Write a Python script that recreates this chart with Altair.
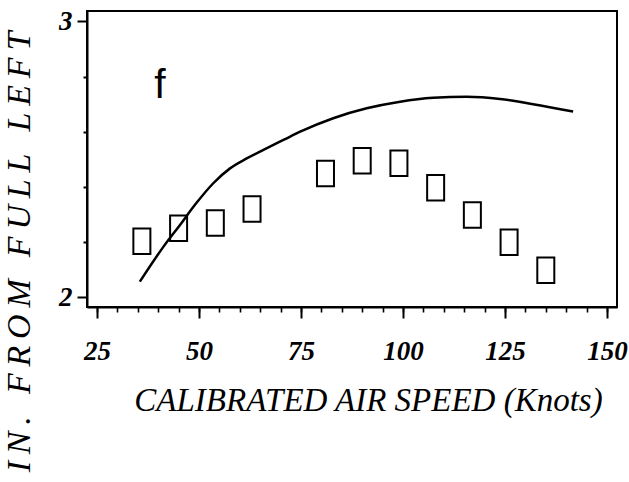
import altair as alt
import pandas as pd

# Measured points (hollow rectangles)
speed = [36, 45, 54, 63, 81, 90, 99, 108, 117, 126, 135]
position = [2.203, 2.250, 2.269, 2.320, 2.448, 2.495, 2.486, 2.397, 2.298, 2.199, 2.097]

# Fitted curve
curve_speed = [35.5, 41.3, 45.3, 49.4, 53.5, 57.6, 61.7, 65.8, 70.7, 74.8,
               82.9, 91.1, 99.3, 107.4, 115.6, 123.8, 131.9, 141.7]
curve_position = [2.056, 2.183, 2.261, 2.342, 2.413, 2.467, 2.503, 2.534, 2.570, 2.600,
                  2.649, 2.685, 2.709, 2.723, 2.727, 2.719, 2.700, 2.673]

# Panel letter
panel_label = ["f"]
label_speed = [40.4]
label_position = [2.722]

x_major = [25, 50, 75, 100, 125, 150]
x_minor = list(range(25, 151, 5))
y_ticks = [2.0, 2.2, 2.4, 2.6, 2.8, 3.0]

x_title = "CALIBRATED AIR SPEED (Knots)"
y_words = ["IN.", "FROM", "FULL", "LEFT"]
thin = "\u2009"  # thin space for letter spacing
y_title = (thin + " " + thin).join(thin.join(w) for w in y_words)

points = pd.DataFrame({"speed": speed, "position": position})
curve = pd.DataFrame({"speed": curve_speed, "position": curve_position})
labels = pd.DataFrame({"speed": label_speed, "position": label_position, "text": panel_label})
y_title_df = pd.DataFrame({"text": [y_title]})

SERIF = "Liberation Serif, Times New Roman, serif"

x_scale = alt.Scale(domain=[22.55, 152.45], nice=False, zero=False)
y_scale = alt.Scale(domain=[1.964, 3.038], nice=False, zero=False)

# Major x ticks with labels and the axis title
x_axis_major = alt.Axis(
    orient="bottom",
    offset=0,
    values=x_major,
    format="d",
    tickSize=11,
    tickWidth=2,
    tickColor="black",
    domainColor="black",
    domainWidth=2,
    grid=False,
    labelFont=SERIF,
    labelFontSize=27,
    labelFontWeight="bold",
    labelFontStyle="italic",
    labelColor="black",
    labelPadding=20,
    labelFlush=False,
    labelOverlap=False,
    title=x_title,
    titleFont=SERIF,
    titleFontSize=33,
    titleFontStyle="italic",
    titleFontWeight="normal",
    titleColor="black",
    titleX=281,
    titleY=93,
    titleBaseline="middle",
    titleAlign="center",
)

# Minor x ticks only
x_axis_minor = alt.Axis(
    orient="bottom",
    offset=0,
    values=x_minor,
    tickSize=5,
    tickWidth=1.6,
    tickColor="black",
    domain=False,
    grid=False,
    labels=False,
    title=None,
)

y_axis = alt.Axis(
    values=y_ticks,
    labelExpr="datum.value % 1 === 0 ? format(datum.value, 'd') : ''",
    tickSize={"condition": {"test": "datum.value % 1 === 0", "value": 10}, "value": 4},
    tickWidth=2,
    tickColor="black",
    domainColor="black",
    domainWidth=2,
    grid=False,
    labelFont=SERIF,
    labelFontSize=27,
    labelFontWeight="bold",
    labelFontStyle="italic",
    labelColor="black",
    labelPadding=5,
    labelFlush=False,
    labelOverlap=False,
    title=None,
)

rect_shape = "M-0.667,-1 L0.667,-1 L0.667,1 L-0.667,1 Z"

line = alt.Chart(curve).mark_line(
    color="black", strokeWidth=2.5, interpolate="monotone"
).encode(
    x=alt.X("speed:Q", scale=x_scale, axis=x_axis_major),
    y=alt.Y("position:Q", scale=y_scale, axis=y_axis),
)

squares = alt.Chart(points).mark_point(
    shape=rect_shape, size=650, filled=False, color="black", strokeWidth=2, opacity=1
).encode(
    x=alt.X("speed:Q", scale=x_scale, axis=x_axis_minor),
    y=alt.Y("position:Q", scale=y_scale),
)

letter = alt.Chart(labels).mark_text(
    font="Liberation Sans", fontSize=41, color="black", align="center", baseline="alphabetic"
).encode(
    x=alt.X("speed:Q", scale=x_scale, axis=None),
    y=alt.Y("position:Q", scale=y_scale),
    text="text:N",
)

# Vertical axis title, letter-spaced
y_title_mark = alt.Chart(y_title_df).mark_text(
    font=SERIF, fontSize=34, fontStyle="italic", fontWeight="normal", color="black",
    angle=270, align="center", baseline="middle", clip=False
).encode(
    x=alt.value(-67),
    y=alt.value(241),
    text="text:N",
)

chart = alt.layer(line, squares, letter, y_title_mark).resolve_axis(
    x="independent"
).properties(
    width=530,
    height=296,
    autosize="none",
    padding={"left": 87, "top": 11, "right": 12, "bottom": 175},
    background="white",
).configure_view(stroke="black", strokeWidth=2)

chart.save("out.html", embed_options={"renderer": "svg", "actions": False})
